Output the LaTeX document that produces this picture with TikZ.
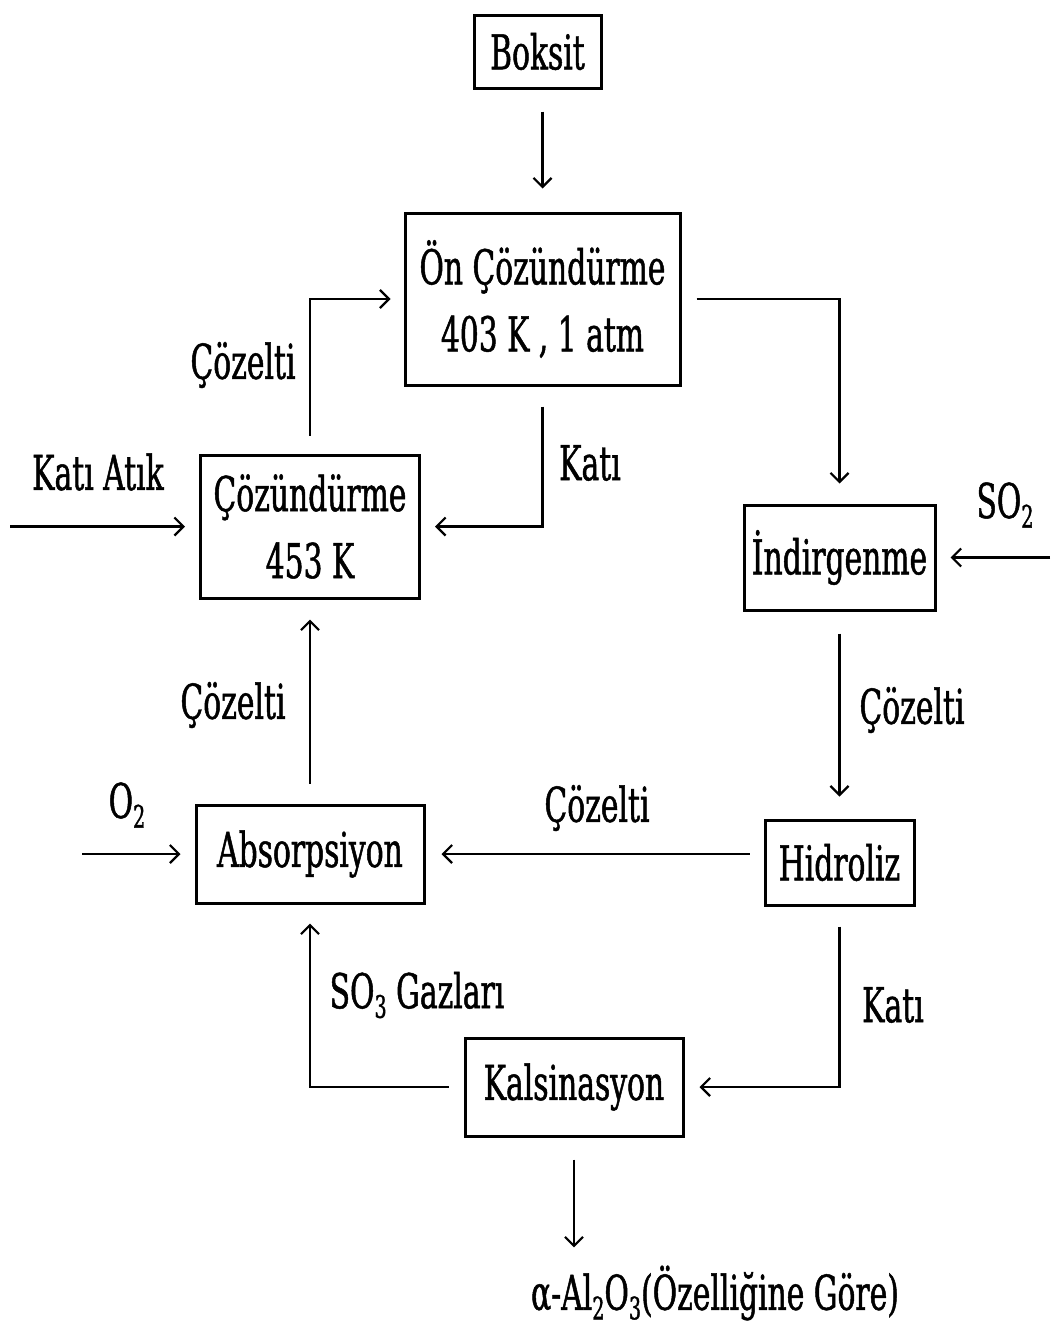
\documentclass[tikz,border=0pt]{standalone}
\usepackage{fontspec}
\setmainfont[FakeStretch=0.62,FakeBold=1]{DejaVu Serif}
\usetikzlibrary{arrows.meta}
\newcommand\lowsub[1]{\raisebox{-0.2em}{\fontsize{31}{31}\selectfont #1}}
\tikzset{
  box/.style={draw, line width=3pt, inner sep=0pt, align=center, font=\fontsize{48}{67}\selectfont},
  lbl/.style={inner sep=0pt, font=\fontsize{48}{56}\selectfont},
  arr/.style={line width=2.4pt, -{Straight Barb[length=9pt,width=18pt,line width=2.2pt]}},
}
\begin{document}
\begin{tikzpicture}[x=1pt,y=-1pt]
\useasboundingbox[fill=white] (0,0) rectangle (1053,1328);
\node[box, minimum width=127pt, minimum height=73pt] (boksit) at (537.5,51.5) {Boksit};
\node[box, minimum width=275pt, minimum height=172pt] (on) at (542.5,299) {Ön Çözündürme\\403 K , 1 atm};
\node[box, minimum width=219pt, minimum height=143pt] (coz) at (310,526.5) {Çözündürme\\453 K};
\node[box, minimum width=191pt, minimum height=105pt] (ind) at (839.5,557.5) {İndirgenme};
\node[box, minimum width=228pt, minimum height=98pt] (abs) at (310,854) {Absorpsiyon};
\node[box, minimum width=149pt, minimum height=85pt] (hid) at (839.5,862.5) {Hidroliz};
\node[box, minimum width=218pt, minimum height=98pt] (kal) at (574,1087) {Kalsinasyon};
\node[lbl] (out) at (715,1293) {α-Al\lowsub{2}O\lowsub{3}(Özelliğine Göre)};
\coordinate (katin) at (10,526.5);
\coordinate (so2in) at (1050,557.5);
\coordinate (o2in) at (82,854);
% labels
\node[lbl] (l1) at (590,463) {Katı};
\node[lbl] (l2) at (243,365) {Çözelti};
\node[lbl] (l3) at (98,472) {Katı Atık};
\node[lbl] (l4) at (1005,505) {SO\lowsub{2}};
\node[lbl] (l5) at (912,710) {Çözelti};
\node[lbl] (l6) at (597,808) {Çözelti};
\node[lbl] (l7) at (127,805) {O\lowsub{2}};
\node[lbl] (l8) at (233,705) {Çözelti};
\node[lbl] (l9) at (893,1005) {Katı};
\node[lbl] (l10) at (417,995) {SO\lowsub{3} Gazları};
% connectors
\draw[arr, shorten <=22pt, shorten >=23pt] (boksit.south -| on.north) -- (on.north);
\draw[arr, shorten <=15pt, shorten >=20pt] (on.east) -| (ind.north);
\draw[arr, shorten <=20pt, shorten >=14pt] (on.south) |- (coz.east);
\draw[arr, shorten <=18pt, shorten >=13pt] (coz.north) |- (on.west);
\draw[arr, shorten >=14pt] (katin) -- (coz.west);
\draw[arr, shorten >=14pt] (so2in) -- (ind.east);
\draw[arr, shorten <=22pt, shorten >=22pt] (ind.south) -- (hid.north);
\draw[arr, shorten <=14pt, shorten >=16pt] (hid.west |- abs.east) -- (abs.east);
\draw[arr, shorten >=14pt] (o2in) -- (abs.west);
\draw[arr, shorten <=20pt, shorten >=20pt] (abs.north) -- (coz.south);
\draw[arr, shorten <=20pt, shorten >=15pt] (hid.south) |- (kal.east);
\draw[arr, shorten <=15pt, shorten >=19pt] (kal.west) -| (abs.south);
\draw[arr, shorten <=22pt, shorten >=18pt] (kal.south) -- (kal.south |- out.north);
\end{tikzpicture}
\end{document}
